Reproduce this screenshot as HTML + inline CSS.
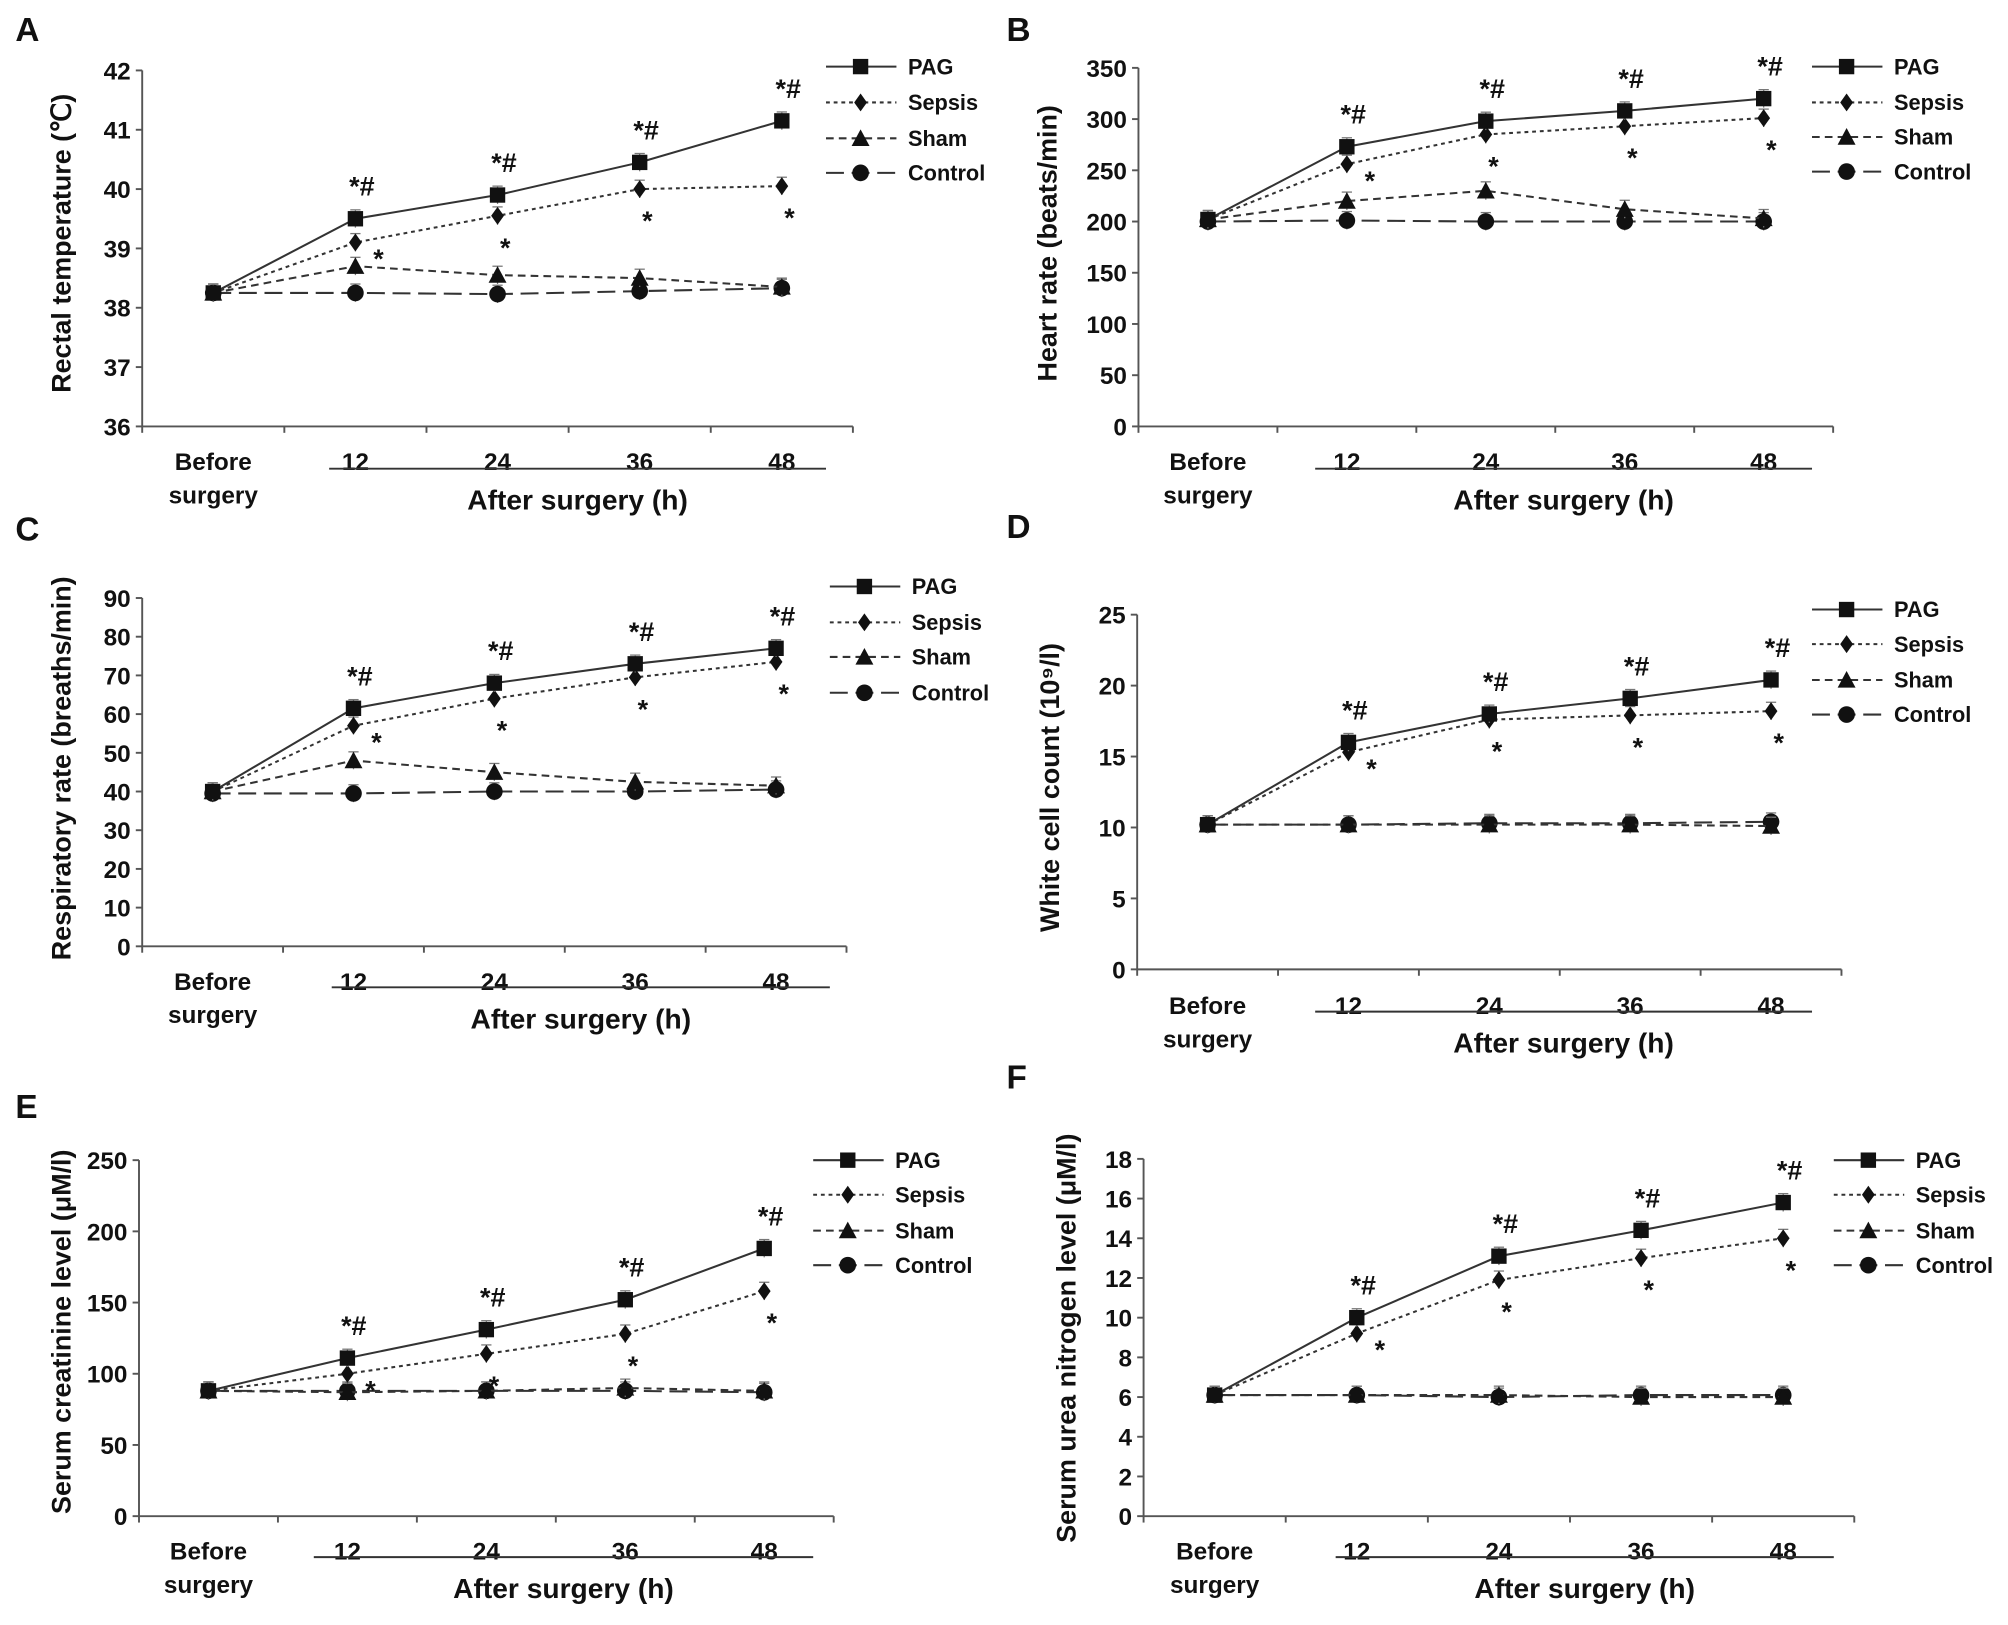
<!DOCTYPE html>
<html><head><meta charset="utf-8"><style>
html,body{margin:0;padding:0;background:#fff}
svg{display:block}
text{font-family:"Liberation Sans",Arial,sans-serif;fill:#111}
</style></head><body>
<svg id="fig" width="2008" height="1625" viewBox="0 0 1568 1269" xmlns="http://www.w3.org/2000/svg"></svg>
<script>
const categories = ["Before surgery","12","24","36","48"];
const seriesNames = ["PAG","Sepsis","Sham","Control"];
const aPAG=[38.25,39.5,39.9,40.45,41.15], aSepsis=[38.25,39.1,39.55,40.0,40.05], aSham=[38.25,38.7,38.55,38.5,38.35], aControl=[38.25,38.25,38.23,38.28,38.33];
const bPAG=[202,273,298,308,320], bSepsis=[202,256,285,293,301], bSham=[202,220,230,212,203], bControl=[200,201,200,200,200];
const cPAG=[40,61.5,68,73,77], cSepsis=[40,57,64,69.5,73.5], cSham=[40,48,45,42.5,41.5], cControl=[39.5,39.5,40,40,40.5];
const dPAG=[10.2,16,18,19.1,20.4], dSepsis=[10.2,15.3,17.6,17.9,18.2], dSham=[10.2,10.2,10.2,10.2,10.1], dControl=[10.2,10.2,10.3,10.3,10.4];
const ePAG=[88,111,131,152,188], eSepsis=[88,100,114,128,158], eSham=[88,87,88,90,88], eControl=[88,88,88,88,87];
const fPAG=[6.1,10,13.1,14.4,15.8], fSepsis=[6.1,9.2,11.9,13,14], fSham=[6.1,6.1,6.1,6,6], fControl=[6.1,6.1,6,6.1,6.1];
const aTicks=[36,37,38,39,40,41,42], bTicks=[0,50,100,150,200,250,300,350], cTicks=[0,10,20,30,40,50,60,70,80,90];
const dTicks=[0,5,10,15,20,25], eTicks=[0,50,100,150,200,250], fTicks=[0,2,4,6,8,10,12,14,16,18];

const NS="http://www.w3.org/2000/svg";
const svg=document.getElementById('fig');
function mk(tag,attrs,parent,txt){const e=document.createElementNS(NS,tag);for(const k in attrs)e.setAttribute(k,attrs[k]);if(txt!==undefined)e.textContent=txt;(parent||svg).appendChild(e);return e;}
const dashes=["", "3,3", "6,4", "14,6"];
function marker(g,type,x,y){
  let m;
  if(type===0)m=mk('rect',{x:x-6,y:y-6,width:12,height:12,fill:'#111'},g);
  else if(type===1)m=mk('polygon',{points:`${x},${y-7} ${x+5},${y} ${x},${y+7} ${x-5},${y}`,fill:'#111'},g);
  else if(type===2)m=mk('polygon',{points:`${x},${y-7} ${x+7},${y+6} ${x-7},${y+6}`,fill:'#111'},g);
  else m=mk('circle',{cx:x,cy:y,r:6.5,fill:'#111'},g);
  return m;
}
const panels=[
 {id:'a',L:'A',lx:12,ly:32,x0:111,band:111,yTop:55,yBot:333,ticks:aTicks,data:[aPAG,aSepsis,aSham,aControl],title:'Rectal temperature (\u2103)',tx:48,ty:190,labY:360,lineY:366,lineX:[257,645],legX:645,legY:[52,80,108,135]},
 {id:'b',L:'B',lx:786,ly:32,x0:889,band:108.5,yTop:53,yBot:333,ticks:bTicks,data:[bPAG,bSepsis,bSham,bControl],title:'Heart rate (beats/min)',tx:818,ty:190,labY:360,lineY:366,lineX:[1027,1415],legX:1415,legY:[52,80,107,134]},
 {id:'c',L:'C',lx:12,ly:422,x0:111,band:110,yTop:467,yBot:739,ticks:cTicks,data:[cPAG,cSepsis,cSham,cControl],title:'Respiratory rate (breaths/min)',tx:48,ty:600,labY:766,lineY:771,lineX:[259,648],legX:648,legY:[458,486,513,541]},
 {id:'d',L:'D',lx:786,ly:420,x0:888,band:110,yTop:480,yBot:757,ticks:dTicks,data:[dPAG,dSepsis,dSham,dControl],title:'White cell count (10\u2079/l)',tx:820,ty:615,labY:785,lineY:790,lineX:[1027,1415],legX:1415,legY:[476,503,531,558]},
 {id:'e',L:'E',lx:12,ly:873,x0:108.5,band:108.5,yTop:906,yBot:1184,ticks:eTicks,data:[ePAG,eSepsis,eSham,eControl],title:'Serum creatinine level (\u03bcM/l)',tx:48,ty:1040,labY:1211,lineY:1216,lineX:[245,635],legX:635,legY:[906,933,961,988]},
 {id:'f',L:'F',lx:786,ly:850,x0:893,band:111,yTop:905,yBot:1184,ticks:fTicks,data:[fPAG,fSepsis,fSham,fControl],title:'Serum urea nitrogen level (\u03bcM/l)',tx:833,ty:1045,labY:1211,lineY:1216,lineX:[1043,1432],legX:1432,legY:[906,933,961,988]}
];
panels.forEach(p=>{
  const g=mk('g',{});
  
  
  const t0=p.ticks[0],t1=p.ticks[p.ticks.length-1];
  const Y=v=>p.yBot-(v-t0)/(t1-t0)*(p.yBot-p.yTop);
  const X=i=>p.x0+p.band*(i+0.5);
  const xEnd=p.x0+p.band*5;
  const lbl=mk('text',{x:p.lx,y:p.ly,'font-size':26,'font-weight':'bold'},g,p.L);
  
  
  // axes
  const ya=mk('line',{x1:p.x0,y1:p.yTop,x2:p.x0,y2:p.yBot,stroke:'#555','stroke-width':1.5},g);
  
  
  const xa=mk('line',{x1:p.x0,y1:p.yBot,x2:xEnd,y2:p.yBot,stroke:'#555','stroke-width':1.5},g);
  
  
  for(let i=0;i<=5;i++)mk('line',{x1:p.x0+p.band*i,y1:p.yBot,x2:p.x0+p.band*i,y2:p.yBot+5,stroke:'#555','stroke-width':1.5},g);
  p.ticks.forEach(v=>{
    mk('line',{x1:p.x0-5,y1:Y(v),x2:p.x0,y2:Y(v),stroke:'#555','stroke-width':1.5},g);
    const tl=mk('text',{x:p.x0-9,y:Y(v)+7,'font-size':19,'font-weight':'bold','text-anchor':'end'},g,String(v));
    
    
  });
  const yt=mk('text',{x:p.tx,y:p.ty,'font-size':21,'font-weight':'bold','text-anchor':'middle',transform:`rotate(-90 ${p.tx} ${p.ty})`,dy:7},g,p.title);
  
  
  // x labels
  categories.forEach((c,i)=>{
    if(i===0){
      const a=mk('text',{x:X(0),y:p.labY+7,'font-size':19,'font-weight':'bold','text-anchor':'middle'},g,'Before');
      
      
      mk('text',{x:X(0),y:p.labY+33,'font-size':19,'font-weight':'bold','text-anchor':'middle'},g,'surgery');
    } else {
      const a=mk('text',{x:X(i),y:p.labY+7,'font-size':19,'font-weight':'bold','text-anchor':'middle'},g,c);
      
      
    }
  });
  mk('line',{x1:p.lineX[0],y1:p.lineY,x2:p.lineX[1],y2:p.lineY,stroke:'#333','stroke-width':1.5},g);
  const xt=mk('text',{x:(p.lineX[0]+p.lineX[1])/2,y:p.lineY+32,'font-size':22,'font-weight':'bold','text-anchor':'middle'},g,'After surgery (h)');
  
  
  // series (draw back to front)
  for(let s=3;s>=0;s--){
    const vals=p.data[s];
    const sg=mk('g',{},g);
    
    
    const pts=vals.map((v,i)=>X(i)+','+Y(v)).join(' ');
    const pl=mk('polyline',{points:pts,fill:'none',stroke:'#333','stroke-width':1.6,'stroke-dasharray':dashes[s]},sg);
    vals.forEach((v,i)=>{
      const e=(p.yBot-p.yTop)*0.025;
      mk('line',{x1:X(i),y1:Y(v)-e,x2:X(i),y2:Y(v)+e,stroke:'#777','stroke-width':1},sg);
      mk('line',{x1:X(i)-4,y1:Y(v)-e,x2:X(i)+4,y2:Y(v)-e,stroke:'#777','stroke-width':1},sg);
      const m=marker(sg,s,X(i),Y(v));
      
      
    });
  }
  // significance marks
  for(let i=1;i<5;i++){
    const a=mk('text',{x:X(i)+5,y:Y(p.data[0][i])-18,'font-size':21,'font-weight':'bold','text-anchor':'middle'},g,'*#');
    
    
    const b=mk('text',{x:X(i)+(i===1?18:6),y:Y(p.data[1][i])+(i===1?20:32),'font-size':21,'font-weight':'bold','text-anchor':'middle'},g,'*');
    
    
  }
  // legend
  seriesNames.forEach((n,s)=>{
    const lg=mk('g',{},g);
    
    
    const y=p.legY[s];
    mk('line',{x1:p.legX,y1:y,x2:p.legX+55,y2:y,stroke:'#333','stroke-width':1.6,'stroke-dasharray':dashes[s]},lg);
    marker(lg,s,p.legX+27,y);
    mk('text',{x:p.legX+64,y:y+6,'font-size':17,'font-weight':'bold'},lg,n);
  });
});
</script>
</body></html>
